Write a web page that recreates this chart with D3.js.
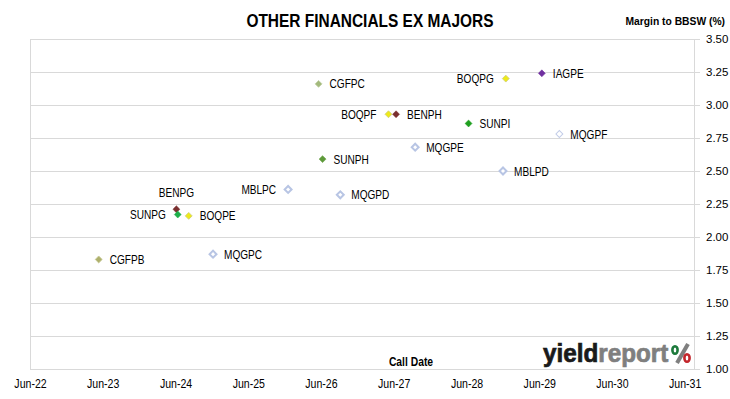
<!DOCTYPE html>
<html>
<head>
<meta charset="utf-8">
<script src="https://cdn.jsdelivr.net/npm/d3@7"></script>
<style>
  body { margin: 0; background: #fff; }
  svg { display: block; }
  text { font-family: "Liberation Sans", Arial, sans-serif; fill: #000; }
</style>
</head>
<body>
<div id="chart"></div>
<script>
// securities, call dates and margins
var codes = ["CGFPB", "BENPG", "SUNPG", "BOQPE", "MQGPC", "MBLPC", "CGFPC", "SUNPH", "MQGPD",
             "BOQPF", "BENPH", "MQGPE", "SUNPI", "MBLPD", "BOQPG", "IAGPE", "MQGPF"];
var callDates = ["2023-05-12", "2024-06-05", "2024-06-12", "2024-08-06", "2024-12-06", "2025-12-18",
                 "2026-05-20", "2026-06-09", "2026-09-06", "2027-05-06", "2027-06-13", "2027-09-17",
                 "2028-06-11", "2028-12-01", "2028-12-15", "2029-06-14", "2029-09-10"];
var margins = [1.83, 2.21, 2.17, 2.16, 1.87, 2.36, 3.16, 2.59, 2.32,
               2.93, 2.93, 2.68, 2.86, 2.50, 3.20, 3.24, 2.78];

var xTickDates = ["2022-06-01", "2023-06-01", "2024-06-01", "2025-06-01", "2026-06-01",
                  "2027-06-01", "2028-06-01", "2029-06-01", "2030-06-01", "2031-06-01"];
var yTicks = [1.00, 1.25, 1.50, 1.75, 2.00, 2.25, 2.50, 2.75, 3.00, 3.25, 3.50];

// where each label sits relative to its marker
var labelSide = {BENPG: "above", SUNPG: "left", MBLPC: "left", BOQPF: "left", BOQPG: "left"};

var markerStyle = {
    CGFPB: {fill: "#aeb06c", stroke: "#c9cb98", w: 0.8},
    CGFPC: {fill: "#a3b97c", stroke: "#c3d2a8", w: 0.8},
    SUNPG: {fill: "#1eaf4a", stroke: "#1eaf4a", w: 0.5},
    SUNPH: {fill: "#5e9a3a", stroke: "#5e9a3a", w: 0.5},
    SUNPI: {fill: "#1f9f1f", stroke: "#1f9f1f", w: 0.5},
    BOQPE: {fill: "#eeea1a", stroke: "#cfcf80", w: 0.8},
    BOQPF: {fill: "#eeea1a", stroke: "#cfcf80", w: 0.8},
    BOQPG: {fill: "#eeea1a", stroke: "#cfcf80", w: 0.8},
    BENPG: {fill: "#7a2f2f", stroke: "#7a2f2f", w: 0.5},
    BENPH: {fill: "#7a2f2f", stroke: "#7a2f2f", w: 0.5},
    IAGPE: {fill: "#7030a0", stroke: "#7030a0", w: 0.5},
    MQGPC: {fill: "#ffffff", stroke: "#b8c5e4", w: 2},
    MQGPD: {fill: "#ffffff", stroke: "#b8c5e4", w: 2},
    MQGPE: {fill: "#ffffff", stroke: "#b8c5e4", w: 2},
    MBLPC: {fill: "#ffffff", stroke: "#b8c5e4", w: 2},
    MBLPD: {fill: "#ffffff", stroke: "#b8c5e4", w: 2},
    MQGPF: {fill: "#ffffff", stroke: "#c3cde8", w: 1}
};

var W = 730, H = 399;
var plot = {left: 30, right: 694, top: 39, bottom: 369};
var parse = d3.timeParse("%Y-%m-%d");

// squeeze text horizontally so it reads like a condensed face
function narrow(sel, ratio) {
    sel.each(function() {
        var len = this.getComputedTextLength();
        d3.select(this)
            .attr("textLength", len * ratio)
            .attr("lengthAdjust", "spacingAndGlyphs");
    });
}

var svg = d3.select("#chart").append("svg")
    .attr("width", W)
    .attr("height", H);

var x = d3.scaleTime()
    .domain([parse("2022-06-01"), parse("2031-07-18")])
    .range([plot.left, plot.right]);

var y = d3.scaleLinear()
    .domain([1, 3.5])
    .range([plot.bottom, plot.top]);

// gridlines (run a little past the right axis like tick marks)
svg.append("g").selectAll("line")
    .data(yTicks)
    .enter().append("line")
    .attr("x1", plot.left)
    .attr("x2", plot.right + 6)
    .attr("y1", function(d) { return Math.round(y(d)) + 0.5; })
    .attr("y2", function(d) { return Math.round(y(d)) + 0.5; })
    .attr("stroke", "#d9d9d9")
    .attr("stroke-width", 1);

[plot.left, plot.right].forEach(function(px) {
    svg.append("line")
        .attr("x1", px + 0.5).attr("x2", px + 0.5)
        .attr("y1", plot.top).attr("y2", plot.bottom + 1)
        .attr("stroke", "#d9d9d9");
});

// right value axis labels
var yAxis = d3.axisRight(y)
    .tickValues(yTicks)
    .tickFormat(d3.format(".2f"))
    .tickSize(0)
    .tickPadding(12);

svg.append("g")
    .attr("transform", "translate(" + plot.right + ",0)")
    .call(yAxis)
    .call(function(g) { g.select(".domain").remove(); })
    .selectAll("text")
    .style("font-family", "'Liberation Sans', Arial, sans-serif")
    .style("font-size", "11.5px")
    .attr("fill", "#000");

// date axis labels
var xAxis = d3.axisBottom(x)
    .tickValues(xTickDates.map(parse))
    .tickFormat(d3.timeFormat("%b-%y"))
    .tickSize(0)
    .tickPadding(10);

svg.append("g")
    .attr("transform", "translate(0," + plot.bottom + ")")
    .call(xAxis)
    .call(function(g) { g.select(".domain").remove(); })
    .selectAll("text")
    .style("font-family", "'Liberation Sans', Arial, sans-serif")
    .style("font-size", "12px")
    .attr("fill", "#000")
    .call(narrow, 0.88);

// points
var data = codes.map(function(c, i) {
    return {code: c, date: parse(callDates[i]), margin: margins[i]};
});

var diamond = d3.symbol().type(d3.symbolSquare).size(24);

var pts = svg.append("g").selectAll("g.pt")
    .data(data)
    .enter().append("g")
    .attr("class", "pt")
    .attr("transform", function(d) { return "translate(" + x(d.date) + "," + y(d.margin) + ")"; });

pts.append("path")
    .attr("d", diamond)
    .attr("transform", "rotate(45)")
    .attr("fill", function(d) { return markerStyle[d.code].fill; })
    .attr("stroke", function(d) { return markerStyle[d.code].stroke; })
    .attr("stroke-width", function(d) { return markerStyle[d.code].w; });

pts.append("text")
    .attr("x", function(d) {
        var s = labelSide[d.code];
        return s === "left" ? -12 : s === "above" ? 0 : 11;
    })
    .attr("y", function(d) { return labelSide[d.code] === "above" ? -12 : 4.5; })
    .attr("text-anchor", function(d) {
        var s = labelSide[d.code];
        return s === "left" ? "end" : s === "above" ? "middle" : "start";
    })
    .style("font-size", "12px")
    .text(function(d) { return d.code; })
    .call(narrow, 0.84);

// titles
svg.append("text")
    .attr("x", 370).attr("y", 27)
    .attr("text-anchor", "middle")
    .style("font-size", "18.5px")
    .style("font-weight", "bold")
    .text("OTHER FINANCIALS EX MAJORS")
    .call(narrow, 0.835);

svg.append("text")
    .attr("x", 725).attr("y", 24.5)
    .attr("text-anchor", "end")
    .style("font-size", "10.3px")
    .style("font-weight", "bold")
    .text("Margin to BBSW (%)");

svg.append("text")
    .attr("x", 411).attr("y", 366)
    .attr("text-anchor", "middle")
    .style("font-size", "12px")
    .style("font-weight", "bold")
    .text("Call Date")
    .call(narrow, 0.86);

// yieldreport logo
var logo = svg.append("g");
var lt = logo.append("text")
    .attr("x", 543).attr("y", 362)
    .style("font-size", "25px")
    .style("font-weight", "bold");
lt.append("tspan").attr("fill", "#1a1a1a").attr("stroke", "#1a1a1a").attr("stroke-width", 0.7).text("yield");
lt.append("tspan").attr("fill", "#7f7f7f").attr("stroke", "#7f7f7f").attr("stroke-width", 0.7).text("report");
lt.call(narrow, 0.97);

logo.append("line")
    .attr("x1", 688).attr("y1", 344)
    .attr("x2", 677).attr("y2", 363)
    .attr("stroke", "#7f7f7f")
    .attr("stroke-width", 4);
logo.append("ellipse")
    .attr("cx", 675).attr("cy", 350).attr("rx", 2.6).attr("ry", 3.8)
    .attr("fill", "#fff").attr("stroke", "#1d7a3c").attr("stroke-width", 2.6);
logo.append("ellipse")
    .attr("cx", 687).attr("cy", 358).attr("rx", 2.6).attr("ry", 3.8)
    .attr("fill", "#fff").attr("stroke", "#c3262c").attr("stroke-width", 2.6);
</script>
</body>
</html>
